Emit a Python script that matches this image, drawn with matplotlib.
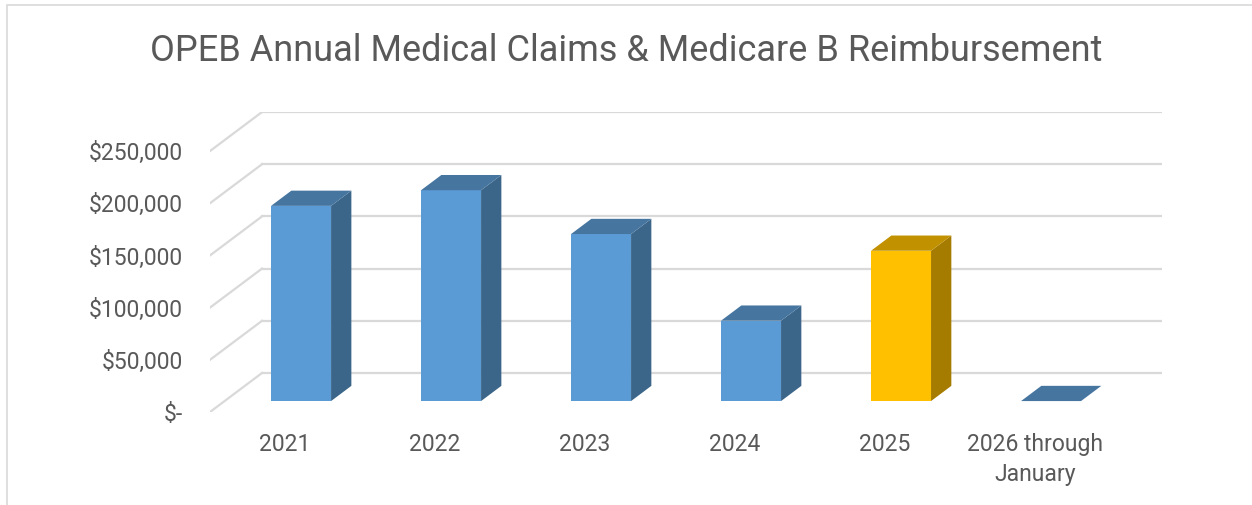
import matplotlib.pyplot as plt
from matplotlib.patches import Polygon, Rectangle

categories = ["2021", "2022", "2023", "2024", "2025", "2026 through\nJanuary"]
values = [187000, 202000, 160000, 77000, 144000, 0]
highlight = [False, False, False, False, True, False]
y_ticks = [0, 50000, 100000, 150000, 200000, 250000]
y_tick_labels = ["$-", "$50,000", "$100,000", "$150,000", "$200,000", "$250,000"]

title = "OPEB Annual Medical Claims & Medicare B Reimbursement"

# oblique depth offsets in data units (full depth of the floor)
DX = 0.347
DY = 37400
D0, D1 = 0.28, 0.67  # bar depth range
BAR_L, BAR_R = 0.31, 0.71

blue = ("#5B9BD5", "#3C6689", "#4675A0")
gold = ("#FFC000", "#A67C00", "#C29100")
grid_color = "#D9D9D9"
text_color = "#595959"

W, H = 1252, 506
fig = plt.figure(figsize=(W / 100, H / 100), dpi=100)
fig.patches.append(Rectangle((7 / W, -0.1), 1.2, (H - 6) / H + 0.1,
                             transform=fig.transFigure, fill=False,
                             edgecolor=grid_color, linewidth=1.2))

ax = fig.add_axes([210 / W, 93 / H, 952 / W, 300 / H])
n = len(categories)
ax.set_xlim(0, n + DX)
ax.set_ylim(0, y_ticks[-1] + DY)
ax.axis("off")


def proj(x, y, d):
    return (x + d * DX, y + d * DY)


# back wall and side wall gridlines
for v, lab in zip(y_ticks, y_tick_labels):
    ax.plot([DX, n + DX], [v + DY, v + DY], color=grid_color, lw=1.6, zorder=1)
    ax.plot([0, DX], [v, v + DY], color=grid_color, lw=1.6, zorder=1)
    ax.text(-0.18, v - 1500, lab, ha="right", va="center",
            fontsize=16.5, color=text_color, family="Roboto")

for i, (v, hl) in enumerate(zip(values, highlight)):
    front, side, top = gold if hl else blue
    x0, x1 = i + BAR_L, i + BAR_R
    fx, fy = proj(x0, 0, D0)
    ax.bar(fx, v, width=x1 - x0, bottom=fy, align="edge", color=front, zorder=3)
    side_pts = [proj(x1, 0, D0), proj(x1, v, D0), proj(x1, v, D1), proj(x1, 0, D1)]
    top_pts = [proj(x0, v, D0), proj(x1, v, D0), proj(x1, v, D1), proj(x0, v, D1)]
    ax.add_patch(Polygon(side_pts, closed=True, color=side, zorder=3, lw=0))
    ax.add_patch(Polygon(top_pts, closed=True, color=top, zorder=3, lw=0))
    ax.text(i + 0.5, -19000, categories[i], ha="center", va="top", fontsize=16.5,
            color=text_color, family="Roboto", linespacing=1.38, clip_on=False)

fig.text(0.5, 1 - 51 / H, title, ha="center", va="center", fontsize=26,
         color=text_color, family="Roboto")

fig.savefig("out.png", dpi=100)
